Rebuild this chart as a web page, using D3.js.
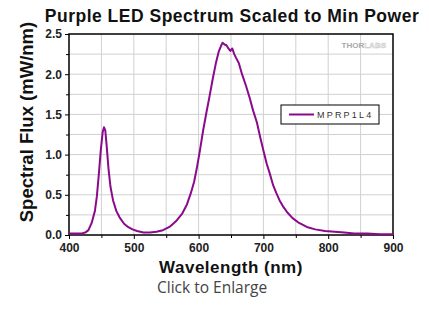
<!DOCTYPE html>
<html>
<head>
<meta charset="utf-8">
<script src="https://cdn.jsdelivr.net/npm/d3@7"></script>
<style>
  body { margin: 0; background: #fff; }
  svg { display: block; }
</style>
</head>
<body>
<div id="chart"></div>
<script>
// spectrum (nm, mW/nm)
const wavelengths = [400, 410, 420, 425, 430, 435, 440, 443, 446, 449, 452, 454, 456, 458, 461, 464, 468, 473, 478, 485, 491, 498, 505, 515, 525, 535, 545, 555, 565, 575, 582, 588, 593, 597, 602, 607, 612, 617, 622, 627, 631, 635, 637, 640, 643, 646, 649, 652, 655, 658, 662, 667, 673, 679, 684, 690, 695, 700, 705, 710, 715, 720, 725, 730, 737, 745, 755, 767, 780, 795, 810, 825, 840, 860, 880, 900];
const flux = [0.02, 0.02, 0.02, 0.03, 0.06, 0.15, 0.30, 0.48, 0.75, 1.05, 1.28, 1.34, 1.30, 1.12, 0.82, 0.60, 0.43, 0.30, 0.22, 0.14, 0.10, 0.07, 0.05, 0.03, 0.03, 0.04, 0.06, 0.10, 0.17, 0.27, 0.38, 0.52, 0.66, 0.82, 1.05, 1.30, 1.52, 1.73, 1.95, 2.15, 2.28, 2.36, 2.39, 2.37, 2.36, 2.32, 2.29, 2.32, 2.25, 2.20, 2.14, 2.00, 1.86, 1.70, 1.55, 1.40, 1.22, 1.05, 0.89, 0.76, 0.62, 0.52, 0.43, 0.36, 0.28, 0.21, 0.15, 0.10, 0.07, 0.05, 0.04, 0.03, 0.02, 0.02, 0.01, 0.01];
const xTicks = [400, 500, 600, 700, 800, 900];
const yTicks = [0.0, 0.5, 1.0, 1.5, 2.0, 2.5];
const seriesName = "MPRP1L4";

const W = 429, H = 312;
const margin = { top: 34, right: 36, bottom: 77, left: 69 };
const width = W - margin.left - margin.right;
const height = H - margin.top - margin.bottom;
const purple = "#8b0a8b";

const svg = d3.select("#chart").append("svg")
  .attr("width", W)
  .attr("height", H);

const x = d3.scaleLinear().domain([400, 900]).range([0, width]);
const y = d3.scaleLinear().domain([0, 2.5]).range([height, 0]);

const g = svg.append("g")
  .attr("transform", "translate(" + margin.left + "," + margin.top + ")");

// grid
g.append("g").selectAll("line")
  .data(d3.range(450, 900, 50))
  .enter().append("line")
    .attr("x1", d => x(d)).attr("x2", d => x(d))
    .attr("y1", 0).attr("y2", height)
    .attr("stroke", "#d0d0d0").attr("stroke-width", 1);
g.append("g").selectAll("line")
  .data(d3.range(0.25, 2.5, 0.25))
  .enter().append("line")
    .attr("y1", d => y(d)).attr("y2", d => y(d))
    .attr("x1", 0).attr("x2", width)
    .attr("stroke", "#d0d0d0").attr("stroke-width", 1);

// minor ticks
const xMinor = d3.axisBottom(x).tickValues(d3.range(450, 900, 100)).tickSize(3).tickFormat("");
const yMinor = d3.axisLeft(y).tickValues(d3.range(0.25, 2.5, 0.5)).tickSize(3).tickFormat("");
g.append("g").attr("transform", "translate(0," + height + ")").call(xMinor);
g.append("g").call(yMinor);

// axes
const xAxis = d3.axisBottom(x).tickValues(xTicks).tickSize(4).tickPadding(4).tickFormat(d3.format("d"));
const yAxis = d3.axisLeft(y).tickValues(yTicks).tickSize(4).tickPadding(3).tickFormat(d3.format(".1f"));
g.append("g").attr("class", "x axis").attr("transform", "translate(0," + height + ")").call(xAxis);
g.append("g").attr("class", "y axis").call(yAxis);

g.selectAll(".domain").remove();
g.selectAll(".tick line").attr("stroke", "#000");
g.selectAll(".tick text")
  .attr("fill", "#222")
  .style("font-family", "Liberation Sans, Arial, sans-serif")
  .style("font-size", "12px")
  .style("font-weight", "bold");

// frame
g.append("rect")
  .attr("width", width).attr("height", height)
  .attr("fill", "none").attr("stroke", "#000").attr("stroke-width", 1.5);

// watermark
const wm = g.append("text")
  .attr("x", width - 7).attr("y", 14)
  .attr("text-anchor", "end")
  .style("font-family", "Liberation Sans, Arial, sans-serif")
  .style("font-size", "8px")
  .style("font-weight", "bold");
wm.append("tspan").attr("fill", "#a8a8a8").text("THOR");
wm.append("tspan").attr("fill", "#f4f4f4").attr("stroke", "#c8c8c8").attr("stroke-width", 0.5).text("LABS");

// spectrum line
const data = wavelengths.map((w, i) => [w, flux[i]]);
const line = d3.line()
  .x(d => x(d[0]))
  .y(d => y(d[1]));
g.append("path")
  .datum(data)
  .attr("fill", "none")
  .attr("stroke", purple)
  .attr("stroke-width", 2)
  .attr("stroke-linejoin", "round")
  .attr("d", line);

// legend
const lg = g.append("g").attr("transform", "translate(" + (281 - margin.left) + "," + (105 - margin.top) + ")");
lg.append("rect")
  .attr("width", 98).attr("height", 19)
  .attr("fill", "#fff").attr("stroke", "#000").attr("stroke-width", 1);
lg.append("line")
  .attr("x1", 8).attr("x2", 33).attr("y1", 9.5).attr("y2", 9.5)
  .attr("stroke", purple).attr("stroke-width", 2);
lg.append("text")
  .attr("x", 36).attr("y", 13)
  .attr("fill", "#333")
  .style("font-family", "Liberation Sans, Arial, sans-serif")
  .style("font-size", "9px")
  .style("letter-spacing", "2.2px")
  .text(seriesName);

// titles
svg.append("text")
  .attr("x", 232).attr("y", 22)
  .attr("text-anchor", "middle")
  .attr("fill", "#111")
  .style("font-family", "Liberation Sans, Arial, sans-serif")
  .style("font-size", "17.5px")
  .style("font-weight", "bold")
  .style("letter-spacing", "0.5px")
  .text("Purple LED Spectrum Scaled to Min Power");

svg.append("text")
  .attr("transform", "translate(33,122) rotate(-90)")
  .attr("text-anchor", "middle")
  .attr("fill", "#111")
  .style("font-family", "Liberation Sans, Arial, sans-serif")
  .style("font-size", "18.5px")
  .style("font-weight", "bold")
  .text("Spectral Flux (mW/nm)");

svg.append("text")
  .attr("x", 231).attr("y", 273)
  .attr("text-anchor", "middle")
  .attr("fill", "#111")
  .style("font-family", "Liberation Sans, Arial, sans-serif")
  .style("font-size", "17px")
  .style("font-weight", "bold")
  .style("letter-spacing", "0.5px")
  .text("Wavelength (nm)");

svg.append("text")
  .attr("x", 157).attr("y", 293)
  .attr("fill", "#444")
  .style("font-family", "Open Sans, sans-serif")
  .style("font-size", "15.5px")
  .text("Click to Enlarge");
</script>
</body>
</html>
